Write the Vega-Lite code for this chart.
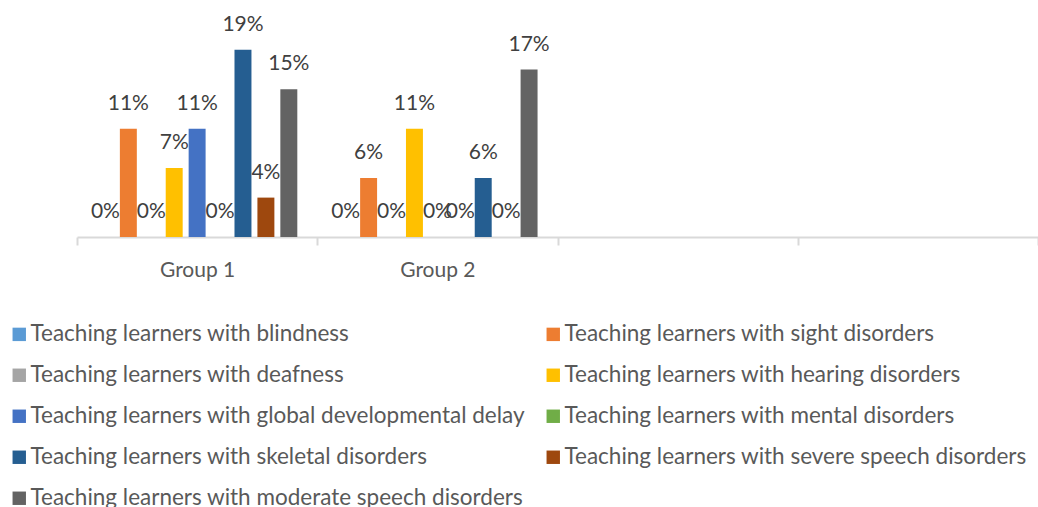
{
  "$schema": "https://vega.github.io/schema/vega-lite/v6.json",
  "autosize": {"type": "none"},
  "width": 961,
  "height": 197,
  "padding": {"left": 77, "top": 40, "right": 0, "bottom": 270},
  "background": "white",
  "config": {"view": {"stroke": null}, "font": "Lato"},
  "data": {"values": [
    {"group": "Group 1", "category": "Teaching learners with blindness", "value": 0},
    {"group": "Group 1", "category": "Teaching learners with sight disorders", "value": 0.11},
    {"group": "Group 1", "category": "Teaching learners with deafness", "value": 0},
    {"group": "Group 1", "category": "Teaching learners with hearing disorders", "value": 0.07},
    {"group": "Group 1", "category": "Teaching learners with global developmental delay", "value": 0.11},
    {"group": "Group 1", "category": "Teaching learners with mental disorders", "value": 0},
    {"group": "Group 1", "category": "Teaching learners with skeletal disorders", "value": 0.19},
    {"group": "Group 1", "category": "Teaching learners with severe speech disorders", "value": 0.04},
    {"group": "Group 1", "category": "Teaching learners with moderate speech disorders", "value": 0.15},
    {"group": "Group 2", "category": "Teaching learners with blindness", "value": 0},
    {"group": "Group 2", "category": "Teaching learners with sight disorders", "value": 0.06},
    {"group": "Group 2", "category": "Teaching learners with deafness", "value": 0},
    {"group": "Group 2", "category": "Teaching learners with hearing disorders", "value": 0.11},
    {"group": "Group 2", "category": "Teaching learners with global developmental delay", "value": 0},
    {"group": "Group 2", "category": "Teaching learners with mental disorders", "value": 0},
    {"group": "Group 2", "category": "Teaching learners with skeletal disorders", "value": 0.06},
    {"group": "Group 2", "category": "Teaching learners with severe speech disorders", "value": 0},
    {"group": "Group 2", "category": "Teaching learners with moderate speech disorders", "value": 0.17}
  ]},
  "encoding": {
    "x": {
      "field": "group", "type": "nominal",
      "scale": {"domain": ["Group 1", "Group 2", "G3", "G4"], "paddingInner": 0, "paddingOuter": 0},
      "axis": {
        "title": null, "labelAngle": 0,
        "labelExpr": "datum.value == 'G3' || datum.value == 'G4' ? '' : datum.value",
        "labelFont": "Lato", "labelFontSize": 21, "labelColor": "#595959", "labelPadding": 14,
        "domainColor": "#d9d9d9", "domainWidth": 2, "tickColor": "#d9d9d9", "tickWidth": 2, "tickSize": 8,
        "tickBand": "extent", "grid": false
      }
    },
    "xOffset": {
      "field": "category", "type": "nominal",
      "sort": [
        "Teaching learners with blindness",
        "Teaching learners with sight disorders",
        "Teaching learners with deafness",
        "Teaching learners with hearing disorders",
        "Teaching learners with global developmental delay",
        "Teaching learners with mental disorders",
        "Teaching learners with skeletal disorders",
        "Teaching learners with severe speech disorders",
        "Teaching learners with moderate speech disorders"
      ],
      "scale": {"paddingInner": 0.26, "paddingOuter": 0.87}
    },
    "y": {
      "field": "value", "type": "quantitative",
      "scale": {"domain": [0, 0.2], "nice": false},
      "axis": null
    }
  },
  "layer": [
    {
      "mark": {"type": "bar"},
      "encoding": {
        "color": {
          "field": "category", "type": "nominal",
          "scale": {
            "domain": [
              "Teaching learners with blindness",
              "Teaching learners with sight disorders",
              "Teaching learners with deafness",
              "Teaching learners with hearing disorders",
              "Teaching learners with global developmental delay",
              "Teaching learners with mental disorders",
              "Teaching learners with skeletal disorders",
              "Teaching learners with severe speech disorders",
              "Teaching learners with moderate speech disorders"
            ],
            "range": ["#5B9BD5", "#ED7D31", "#A5A5A5", "#FFC000", "#4472C4", "#70AD47", "#255E91", "#9E480E", "#636363"]
          },
          "legend": {
            "title": null, "orient": "none", "legendX": -69, "legendY": 283,
            "direction": "horizontal",
            "columns": 2, "columnPadding": 16, "rowPadding": 18,
            "symbolType": "square", "symbolSize": 180, "symbolStrokeWidth": 0,
            "labelFont": "Lato", "labelFontSize": 22.5, "labelColor": "#595959", "labelOffset": 0,
            "labelLimit": 600
          }
        }
      }
    },
    {
      "mark": {"type": "text", "baseline": "middle", "align": "center", "dy": -25, "fontSize": 21, "color": "#404040", "font": "Lato"},
      "encoding": {
        "text": {"field": "value", "type": "quantitative", "format": ".0%"}
      }
    }
  ]
}
